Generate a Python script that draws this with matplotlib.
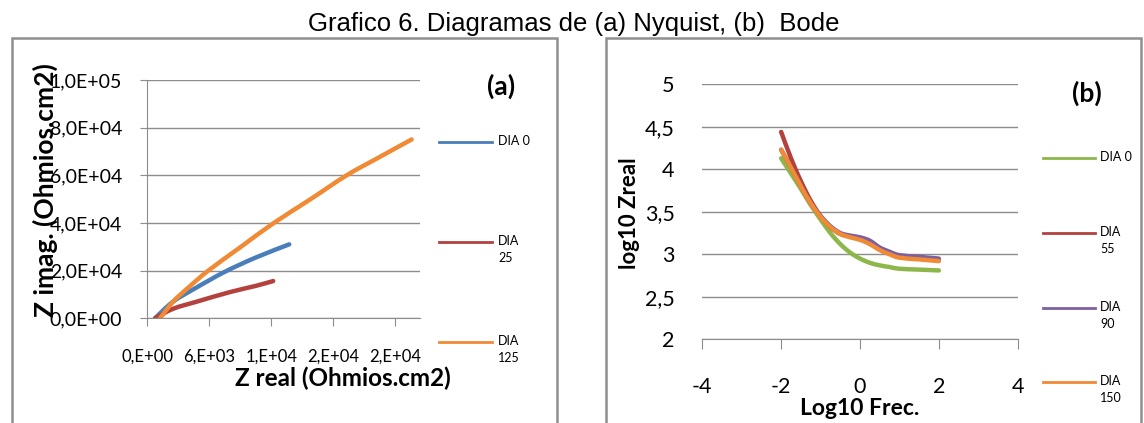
import matplotlib
matplotlib.use("Agg")
import matplotlib.pyplot as plt
from matplotlib.patches import Rectangle, PathPatch
from matplotlib.lines import Line2D
from matplotlib.path import Path

# Nyquist (a)
nyq_labels = ["DIA 0", "DIA\n25", "DIA\n125"]
nyq_x = [
    [745, 2500, 4800, 7500, 10500, 13740],
    [745, 2500, 4800, 8000, 10500, 12190],
    [1230, 2500, 4000, 5900, 9000, 12190, 15740, 19300, 22520, 25590],
]
nyq_y = [
    [0, 7000, 13000, 19500, 25500, 31030],
    [0, 4000, 7000, 11000, 13600, 15640],
    [0, 7000, 13000, 20000, 29800, 39830, 49800, 60000, 67750, 75050],
]
nyq_xticks = [0, 6000, 12000, 18000, 24000]
nyq_xticklabels = ["0,E+00", "6,E+03", "1,E+04", "2,E+04", "2,E+04"]
nyq_yticks = [0, 20000, 40000, 60000, 80000, 100000]
nyq_yticklabels = ["0,0E+00", "2,0E+04", "4,0E+04", "6,0E+04", "8,0E+04", "1,0E+05"]

# Bode (b)
bode_labels = ["DIA 0", "DIA\n55", "DIA\n90", "DIA\n150"]
bode_x = [-2, -1.75, -1.5, -1.25, -1, -0.75, -0.5, -0.25, 0, 0.25, 0.5, 0.75, 1, 1.5, 2]
bode_y = [
    [4.13, 3.95, 3.77, 3.58, 3.41, 3.25, 3.12, 3.02, 2.95, 2.90, 2.87, 2.85, 2.83, 2.82, 2.81],
    [4.44, 4.13, 3.86, 3.63, 3.45, 3.32, 3.24, 3.21, 3.18, 3.13, 3.06, 3.01, 2.97, 2.95, 2.93],
    [4.23, 4.02, 3.80, 3.60, 3.45, 3.33, 3.25, 3.22, 3.20, 3.16, 3.08, 3.03, 2.99, 2.97, 2.95],
    [4.23, 4.02, 3.80, 3.60, 3.44, 3.32, 3.24, 3.20, 3.17, 3.12, 3.05, 3.00, 2.96, 2.94, 2.92],
]
bode_xticks = [-4, -2, 0, 2, 4]
bode_yticks = [2, 2.5, 3, 3.5, 4, 4.5, 5]
bode_yticklabels = ["2", "2,5", "3", "3,5", "4", "4,5", "5"]

nyq_colors = ["#4A7EBB", "#B3413E", "#F08A35"]
bode_colors = ["#8DB74B", "#B3413E", "#7D60A0", "#F08A35"]

W, H = 1144, 423
fig = plt.figure(figsize=(W / 100, H / 100), dpi=100)
CAL = "Lato"
GRID = "#8C8C8C"


def fx(px):
    return px / W


def fy(py):
    return 1 - py / H


def smooth(ax, xs, ys, color):
    # excel-style smoothed line (catmull-rom as bezier segments)
    pts = list(zip(xs, ys))
    verts = [pts[0]]
    codes = [Path.MOVETO]
    for i in range(len(pts) - 1):
        p0 = pts[i - 1] if i > 0 else pts[i]
        p1, p2 = pts[i], pts[i + 1]
        p3 = pts[i + 2] if i + 2 < len(pts) else pts[i + 1]
        c1 = (p1[0] + (p2[0] - p0[0]) / 6, p1[1] + (p2[1] - p0[1]) / 6)
        c2 = (p2[0] - (p3[0] - p1[0]) / 6, p2[1] - (p3[1] - p1[1]) / 6)
        verts += [c1, c2, p2]
        codes += [Path.CURVE4] * 3
    ax.add_patch(PathPatch(Path(verts, codes), fill=False, edgecolor=color,
                           linewidth=3.2, capstyle="round", joinstyle="round"))


# frames of both chart areas
for x0, x1 in [(12, 557), (606, 1141)]:
    fig.patches.append(Rectangle((fx(x0), fy(440)), fx(x1 - x0), (440 - 38) / H,
                                 transform=fig.transFigure, fill=False,
                                 edgecolor="#8F8F8F", linewidth=1.8))

fig.text(fx(574), fy(24), "Grafico 6. Diagramas de (a) Nyquist, (b)  Bode",
         ha="center", va="center", fontsize=18.5, family="Liberation Sans")

# ---- (a) Nyquist ----
ax1 = fig.add_axes([fx(147.3), fy(318.3), fx(420 - 147.3), (318.3 - 80) / H])
for xs, ys, c in zip(nyq_x, nyq_y, nyq_colors):
    smooth(ax1, xs, ys, c)
ax1.set_xlim(0, 26400)
ax1.set_ylim(0, 100000)
ax1.set_xticks(nyq_xticks)
ax1.set_xticklabels(nyq_xticklabels, fontsize=12, family=CAL)
ax1.set_yticks(nyq_yticks)
ax1.set_yticklabels(nyq_yticklabels, fontsize=14, family=CAL)
ax1.yaxis.grid(True, color=GRID, linewidth=1)
ax1.set_axisbelow(True)
for s in ["top", "right"]:
    ax1.spines[s].set_visible(False)
for s in ["left", "bottom"]:
    ax1.spines[s].set_color(GRID)
ax1.tick_params(axis="x", length=6, color=GRID, pad=16)
ax1.tick_params(axis="y", length=5, color=GRID, pad=13)
fig.text(fx(45), fy(190), "Z imag. (Ohmios.cm2)", rotation=90, ha="center", va="center",
         fontsize=19, fontweight="bold", family=CAL)
fig.text(fx(343), fy(378), "Z real (Ohmios.cm2)", ha="center", va="center",
         fontsize=17.5, fontweight="bold", family=CAL)
fig.text(fx(501), fy(86), "(a)", ha="center", va="center",
         fontsize=19, fontweight="bold", family=CAL)

leg_y = [142, 242, 342]
for lab, c, y in zip(nyq_labels, nyq_colors, leg_y):
    fig.add_artist(Line2D([fx(439), fx(492)], [fy(y), fy(y)], color=c, linewidth=2,
                          transform=fig.transFigure))
    fig.text(fx(498), fy(y - 7), lab, ha="left", va="top", fontsize=9,
             family=CAL, linespacing=1.45)

# ---- (b) Bode ----
ax2 = fig.add_axes([fx(702.3), fy(339.3), fx(1017.7 - 702.3), (339.3 - 84.3) / H])
for ys, c in zip(bode_y, bode_colors):
    smooth(ax2, bode_x, ys, c)
ax2.set_xlim(-4, 4)
ax2.set_ylim(2, 5)
ax2.set_xticks(bode_xticks)
ax2.set_xticklabels([str(t) for t in bode_xticks], fontsize=15.5, family=CAL)
ax2.set_yticks(bode_yticks)
ax2.set_yticklabels(bode_yticklabels, fontsize=15.5, family=CAL)
ax2.yaxis.grid(True, color=GRID, linewidth=1)
ax2.set_axisbelow(True)
for s in ["top", "right", "left"]:
    ax2.spines[s].set_visible(False)
ax2.spines["bottom"].set_color(GRID)
ax2.tick_params(axis="x", length=7, color=GRID, pad=20)
ax2.tick_params(axis="y", length=0, pad=20)
fig.text(fx(630), fy(213), "log10 Zreal", rotation=90, ha="center", va="center",
         fontsize=16, fontweight="bold", family=CAL)
fig.text(fx(860), fy(408), "Log10 Frec.", ha="center", va="center",
         fontsize=16.5, fontweight="bold", family=CAL)
fig.text(fx(1087), fy(93), "(b)", ha="center", va="center",
         fontsize=19, fontweight="bold", family=CAL)

leg_y2 = [158, 233, 308, 382]
for lab, c, y in zip(bode_labels, bode_colors, leg_y2):
    fig.add_artist(Line2D([fx(1043), fx(1095)], [fy(y), fy(y)], color=c, linewidth=2,
                          transform=fig.transFigure))
    fig.text(fx(1100), fy(y - 7), lab, ha="left", va="top", fontsize=9,
             family=CAL, linespacing=1.45)

fig.savefig("out.png", dpi=100)
